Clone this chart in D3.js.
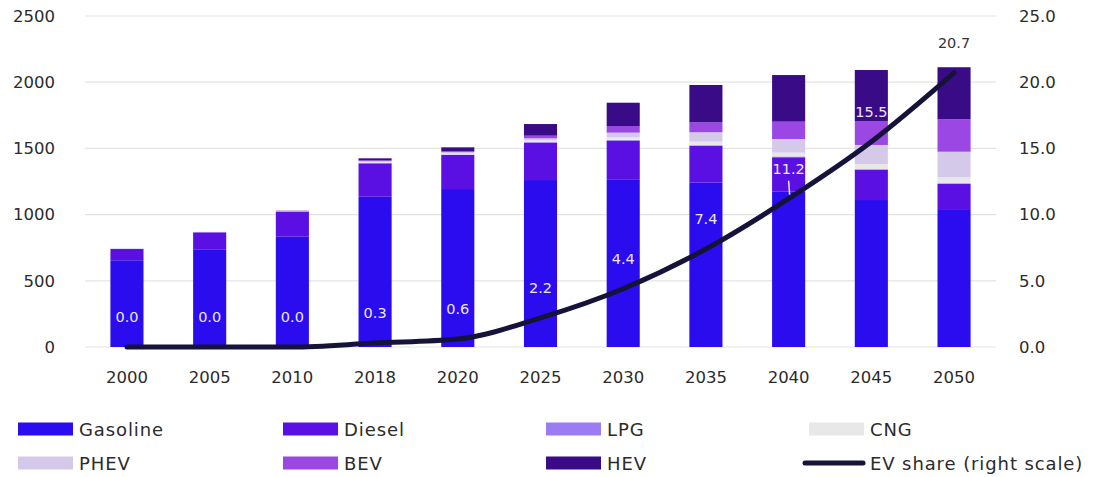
<!DOCTYPE html>
<html>
<head>
<meta charset="utf-8">
<script src="https://cdn.jsdelivr.net/npm/d3@7"></script>
<style>
  html, body { margin: 0; padding: 0; background: #ffffff; }
  svg { display: block; }
  text { font-family: "DejaVu Sans", Verdana, sans-serif; }
</style>
</head>
<body>
<svg id="chart" width="1100" height="477"></svg>
<script>
// Vehicle stock by fuel type (left scale) and EV share in % (right scale)
const years = ["2000", "2005", "2010", "2018", "2020", "2025", "2030", "2035", "2040", "2045", "2050"];

const gasoline = [655, 738, 833, 1135, 1193, 1261, 1267, 1241, 1173, 1110, 1035];
const diesel   = [ 85, 128, 190,  252,  257,  282,  291,  277,  260,  227,  196];
const lpg      = [  2,   2,   2,    4,    4,    5,    6,    6,    6,    6,    6];
const cng      = [  2,   2,   2,    6,    8,   12,   20,   27,   29,   39,   45];
const phev     = [  0,   0,   0,    8,   10,   16,   35,   71,  103,  144,  193];
const bev      = [  0,   0,   0,    5,    6,   20,   50,   75,  131,  181,  245];
const hev      = [  0,   0,   2,   15,   30,   88,  176,  282,  352,  385,  393];

const evShare  = [0.0, 0.0, 0.0, 0.3, 0.6, 2.2, 4.4, 7.4, 11.2, 15.5, 20.7];

const seriesNames  = ["Gasoline", "Diesel", "LPG", "CNG", "PHEV", "BEV", "HEV"];
const seriesColors = ["#2a0cef", "#5a0fe3", "#9c7cf3", "#e8e8e8", "#d5c9ea", "#9a47e4", "#3a0b86"];
const lineName  = "EV share (right scale)";
const lineColor = "#16133a";

const leftTicks  = [0, 500, 1000, 1500, 2000, 2500];
const rightTicks = [0, 5, 10, 15, 20, 25];

const seriesValues = [gasoline, diesel, lpg, cng, phev, bev, hev];
const rows = years.map((y, i) => {
  const r = { year: y };
  seriesNames.forEach((n, k) => { r[n] = seriesValues[k][i]; });
  return r;
});

const svg = d3.select("#chart");

const x = d3.scaleBand().domain(years).range([85.6, 995.4]).paddingInner(0.6).paddingOuter(0.3);
const yL = d3.scaleLinear().domain([0, 2500]).range([347, 16]);
const yR = d3.scaleLinear().domain([0, 25]).range([347, 16]);
const cx = d => x(d) + x.bandwidth() / 2;

// Gridlines
svg.append("g")
  .selectAll("line")
  .data(leftTicks)
  .join("line")
  .attr("x1", 85).attr("x2", 996)
  .attr("y1", d => yL(d)).attr("y2", d => yL(d))
  .attr("stroke", "#e3e3e3").attr("stroke-width", 1.2);

// Left axis
const leftAxis = svg.append("g")
  .attr("transform", "translate(85,0)")
  .call(d3.axisLeft(yL).tickValues(leftTicks).tickSize(0).tickPadding(30).tickFormat(d3.format("d")));
leftAxis.select(".domain").remove();
leftAxis.selectAll("text").attr("font-size", 16.5).attr("fill", "#2b2b2b").attr("font-family", "DejaVu Sans");

// Right axis
const rightAxis = svg.append("g")
  .attr("transform", "translate(996,0)")
  .call(d3.axisRight(yR).tickValues(rightTicks).tickSize(0).tickPadding(23).tickFormat(d3.format(".1f")));
rightAxis.select(".domain").remove();
rightAxis.selectAll("text").attr("font-size", 16.5).attr("fill", "#2b2b2b").attr("font-family", "DejaVu Sans");

// Bottom axis
const bottomAxis = svg.append("g")
  .attr("transform", "translate(0,347)")
  .call(d3.axisBottom(x).tickSize(0).tickPadding(30));
bottomAxis.select(".domain").remove();
bottomAxis.selectAll("text").attr("font-size", 16.5).attr("fill", "#2b2b2b").attr("font-family", "DejaVu Sans")
  .attr("dy", "0").attr("dominant-baseline", "central");

// Stacked bars
const stack = d3.stack().keys(seriesNames)(rows);
svg.append("g")
  .selectAll("g")
  .data(stack)
  .join("g")
  .attr("fill", (d, i) => seriesColors[i])
  .selectAll("rect")
  .data(d => d)
  .join("rect")
  .attr("x", d => x(d.data.year))
  .attr("width", x.bandwidth())
  .attr("y", d => yL(d[1]))
  .attr("height", d => Math.max(0, yL(d[0]) - yL(d[1])));

// EV share line
const line = d3.line()
  .x((d, i) => cx(years[i]))
  .y(d => yR(d))
  .curve(d3.curveMonotoneX);
svg.append("path")
  .datum(evShare)
  .attr("d", line)
  .attr("fill", "none")
  .attr("stroke", lineColor)
  .attr("stroke-width", 5)
  .attr("stroke-linecap", "round")
  .attr("stroke-linejoin", "round");

// EV share value labels
const labelOffset = 30;
const lastIdx = evShare.length - 1;
svg.append("g")
  .selectAll("text")
  .data(evShare)
  .join("text")
  .attr("x", (d, i) => cx(years[i]))
  .attr("y", d => yR(d) - labelOffset)
  .attr("text-anchor", "middle")
  .attr("dominant-baseline", "central")
  .attr("font-size", 14.5)
  .attr("fill", (d, i) => i === lastIdx ? "#333" : "#ece6ff")
  .text(d => d3.format(".1f")(d));

// Leader line under the 2040 label
const leaderIdx = 8;
svg.append("line")
  .attr("x1", cx(years[leaderIdx]))
  .attr("x2", cx(years[leaderIdx]) + 1)
  .attr("y1", yR(evShare[leaderIdx]) - labelOffset + 12)
  .attr("y2", yR(evShare[leaderIdx]) - 4)
  .attr("stroke", "#ece6ff")
  .attr("stroke-width", 1.5);

// Legend
const legendCols = [18, 283, 546, 809];
const legendRows = [429, 463];
const legendItems = seriesNames.map((n, i) => ({ name: n, color: seriesColors[i], type: "rect" }))
  .concat([{ name: lineName, color: lineColor, type: "line" }]);

const lg = svg.append("g")
  .selectAll("g")
  .data(legendItems)
  .join("g")
  .attr("transform", (d, i) => `translate(${legendCols[i % 4]},${legendRows[Math.floor(i / 4)]})`);

lg.filter(d => d.type === "rect").append("rect")
  .attr("x", 0).attr("y", -6.5)
  .attr("width", 55).attr("height", 13)
  .attr("fill", d => d.color);

lg.filter(d => d.type === "line").append("line")
  .attr("x1", -4).attr("x2", 54)
  .attr("y1", 0).attr("y2", 0)
  .attr("stroke", d => d.color)
  .attr("stroke-width", 5)
  .attr("stroke-linecap", "round");

lg.append("text")
  .attr("x", 61)
  .attr("y", 0)
  .attr("dominant-baseline", "central")
  .attr("font-size", 18)
  .attr("letter-spacing", 0.9)
  .attr("fill", "#2b2b2b")
  .text(d => d.name);
</script>
</body>
</html>
